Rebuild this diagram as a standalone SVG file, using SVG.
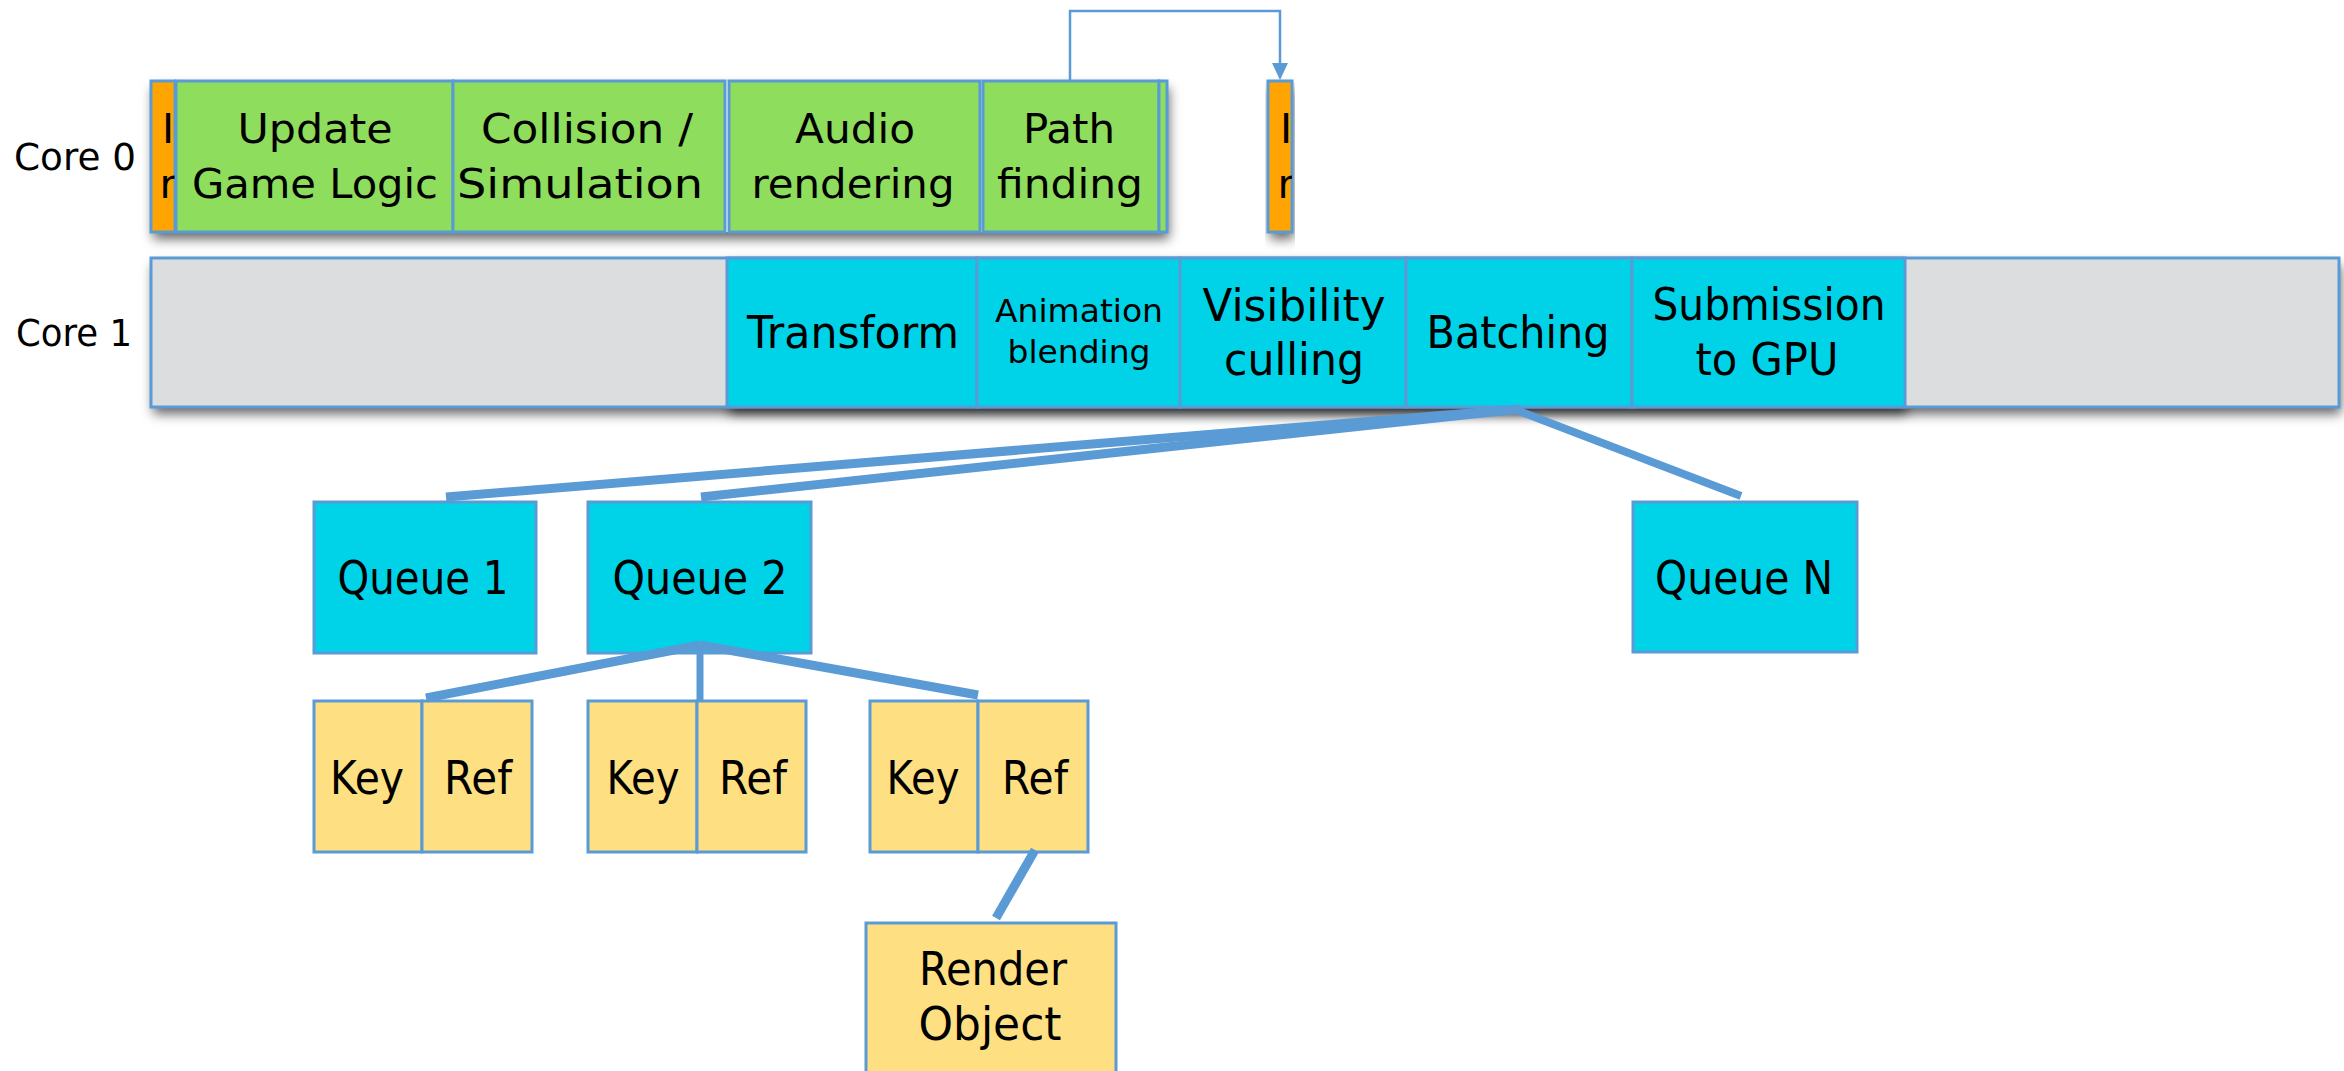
<svg xmlns="http://www.w3.org/2000/svg" width="2344" height="1071" viewBox="0 0 2344 1071">
<style>
  text { font-family: "DejaVu Sans", "Liberation Sans", sans-serif; fill: #000; }
  .lbl { font-size: 37px; }
  .g { font-size: 41px; text-anchor: middle; }
  .c { font-size: 44px; text-anchor: middle; }
  .cs { font-size: 32px; text-anchor: middle; }
  .q { font-size: 46px; text-anchor: middle; }
  .k { font-size: 46px; text-anchor: middle; }
  .box { stroke: #5b9bd5; stroke-width: 3; }
  .green { fill: #8edd5d; }
  .orange { fill: #ffa400; }
  .cyan { fill: #00d3e8; }
  .grey { fill: #dcdddf; }
  .yellow { fill: #fee083; }
  .wire { stroke: #5b9bd5; fill: none; stroke-linecap: butt; }
</style>
<defs>
  <filter id="sh" x="-10%" y="-40%" width="120%" height="200%">
    <feDropShadow dx="2" dy="7" stdDeviation="6" flood-color="#000" flood-opacity="0.6"/>
  </filter>
  <clipPath id="co1"><rect x="151" y="81" width="24" height="151"/></clipPath>
  <clipPath id="co2"><rect x="1268" y="81" width="24" height="151"/></clipPath>
</defs>

<rect x="0" y="0" width="2344" height="1071" fill="#fff"/>

<!-- row shadows -->
<g id="shadows">
  <rect x="151" y="81" width="1016" height="151" fill="#fff" filter="url(#sh)"/>
  <rect x="1268" y="81" width="24" height="151" fill="#fff" filter="url(#sh)"/>
  <rect x="151" y="258" width="2188" height="149" fill="#fff" filter="url(#sh)"/>
  <rect x="727" y="258" width="1178" height="149" fill="#fff" filter="url(#sh)"/>
</g>

<g id="labels">
  <text class="lbl" x="14" y="170" textLength="122" lengthAdjust="spacingAndGlyphs">Core 0</text>
  <text class="lbl" x="16" y="346" textLength="116" lengthAdjust="spacingAndGlyphs">Core 1</text>
</g>

<!-- Core 0 -->
<g id="orange1">
  <rect class="box orange" x="151" y="81" width="24" height="151"/>
  <g clip-path="url(#co1)">
    <text class="g" x="168" y="143">I</text>
    <text class="g" x="168" y="198">r</text>
  </g>
</g>
<g id="update">
  <rect class="box green" x="176" y="81" width="277" height="151"/>
  <text class="g" x="315" y="143" textLength="155" lengthAdjust="spacingAndGlyphs">Update</text>
  <text class="g" x="315" y="198" textLength="246" lengthAdjust="spacingAndGlyphs">Game Logic</text>
</g>
<g id="collision">
  <rect class="box green" x="453" y="81" width="272" height="151"/>
  <text class="g" x="587" y="143" textLength="212" lengthAdjust="spacingAndGlyphs">Collision /</text>
  <text class="g" x="580" y="198" textLength="246" lengthAdjust="spacingAndGlyphs">Simulation</text>
</g>
<g id="audio">
  <rect class="box green" x="729" y="81" width="251" height="151"/>
  <text class="g" x="855" y="143" textLength="120" lengthAdjust="spacingAndGlyphs">Audio</text>
  <text class="g" x="853" y="198" textLength="203" lengthAdjust="spacingAndGlyphs">rendering</text>
</g>
<g id="path">
  <rect class="box green" x="983" y="81" width="176" height="151"/>
  <text class="g" x="1069" y="143" textLength="92" lengthAdjust="spacingAndGlyphs">Path</text>
  <text class="g" x="1070" y="198" textLength="146" lengthAdjust="spacingAndGlyphs">finding</text>
</g>
<g id="sliver">
  <rect class="box green" x="1159" y="81" width="8" height="151"/>
</g>
<g id="orange2">
  <rect class="box orange" x="1268" y="81" width="24" height="151"/>
  <g clip-path="url(#co2)">
    <text class="g" x="1286" y="143">I</text>
    <text class="g" x="1286" y="198">r</text>
  </g>
</g>

<!-- Core 1 -->
<g id="core1bar">
  <rect class="box grey" x="151" y="258" width="2188" height="149"/>
</g>
<g id="transform">
  <rect class="box cyan" x="727" y="258" width="250" height="149"/>
  <text class="c" x="853" y="348" textLength="212" lengthAdjust="spacingAndGlyphs">Transform</text>
</g>
<g id="animation">
  <rect class="box cyan" x="977" y="258" width="203" height="149"/>
  <text class="cs" x="1079" y="322" textLength="168" lengthAdjust="spacingAndGlyphs">Animation</text>
  <text class="cs" x="1079" y="363" textLength="143" lengthAdjust="spacingAndGlyphs">blending</text>
</g>
<g id="visibility">
  <rect class="box cyan" x="1180" y="258" width="226" height="149"/>
  <text class="c" x="1294" y="321" textLength="183" lengthAdjust="spacingAndGlyphs">Visibility</text>
  <text class="c" x="1294" y="375" textLength="140" lengthAdjust="spacingAndGlyphs">culling</text>
</g>
<g id="batching">
  <rect class="box cyan" x="1406" y="258" width="226" height="149"/>
  <text class="c" x="1518" y="348" textLength="183" lengthAdjust="spacingAndGlyphs">Batching</text>
</g>
<g id="submission">
  <rect class="box cyan" x="1632" y="258" width="273" height="149"/>
  <text class="c" x="1769" y="320" textLength="233" lengthAdjust="spacingAndGlyphs">Submission</text>
  <text class="c" x="1767" y="375" textLength="143" lengthAdjust="spacingAndGlyphs">to GPU</text>
</g>

<!-- Queues -->
<g id="queue1">
  <rect class="box cyan" x="314" y="502" width="222" height="151"/>
  <text class="q" x="423" y="594" textLength="171" lengthAdjust="spacingAndGlyphs">Queue 1</text>
</g>
<g id="queue2">
  <rect class="box cyan" x="588" y="502" width="223" height="151"/>
  <text class="q" x="700" y="594" textLength="175" lengthAdjust="spacingAndGlyphs">Queue 2</text>
</g>
<g id="queueN">
  <rect class="box cyan" x="1633" y="502" width="224" height="150"/>
  <text class="q" x="1744" y="594" textLength="178" lengthAdjust="spacingAndGlyphs">Queue N</text>
</g>

<!-- Key/Ref entries -->
<g id="entry1">
  <rect class="box yellow" x="314" y="701" width="108" height="151"/>
  <rect class="box yellow" x="422" y="701" width="110" height="151"/>
  <text class="k" x="367" y="794" textLength="74" lengthAdjust="spacingAndGlyphs">Key</text>
  <text class="k" x="478" y="794" textLength="68" lengthAdjust="spacingAndGlyphs">Ref</text>
</g>
<g id="entry2">
  <rect class="box yellow" x="588" y="701" width="109" height="151"/>
  <rect class="box yellow" x="697" y="701" width="109" height="151"/>
  <text class="k" x="643" y="794" textLength="73" lengthAdjust="spacingAndGlyphs">Key</text>
  <text class="k" x="753" y="794" textLength="68" lengthAdjust="spacingAndGlyphs">Ref</text>
</g>
<g id="entry3">
  <rect class="box yellow" x="870" y="701" width="108" height="151"/>
  <rect class="box yellow" x="978" y="701" width="110" height="151"/>
  <text class="k" x="923" y="794" textLength="73" lengthAdjust="spacingAndGlyphs">Key</text>
  <text class="k" x="1035" y="794" textLength="66" lengthAdjust="spacingAndGlyphs">Ref</text>
</g>
<g id="renderobject">
  <rect class="box yellow" x="866" y="923" width="250" height="170"/>
  <text class="q" x="993" y="985" textLength="148" lengthAdjust="spacingAndGlyphs">Render</text>
  <text class="q" x="990" y="1040" textLength="143" lengthAdjust="spacingAndGlyphs">Object</text>
</g>

<!-- Connectors -->
<g id="connectors">
  <path class="wire" d="M1070,81 V11 H1280 V64" stroke-width="2.5"/>
  <path d="M1272,63 L1288,63 L1280,80 Z" fill="#5b9bd5"/>
  <line class="wire" x1="1520" y1="409" x2="446" y2="497" stroke-width="9"/>
  <line class="wire" x1="1520" y1="409" x2="701" y2="497" stroke-width="9"/>
  <line class="wire" x1="1519" y1="411" x2="1741" y2="496" stroke-width="8"/>
  <line class="wire" x1="700" y1="645" x2="426" y2="698" stroke-width="9"/>
  <line class="wire" x1="700" y1="645" x2="700" y2="700" stroke-width="7"/>
  <line class="wire" x1="700" y1="645" x2="978" y2="695" stroke-width="9"/>
  <line class="wire" x1="1035" y1="850" x2="996" y2="918" stroke-width="9"/>
</g>
</svg>
